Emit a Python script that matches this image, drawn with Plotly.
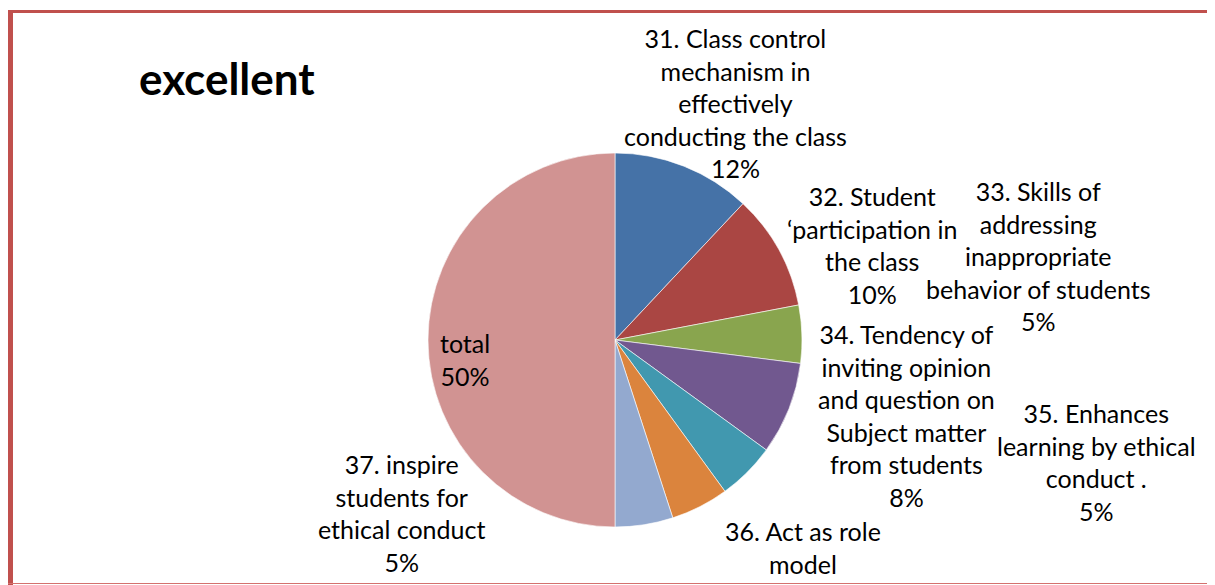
import plotly.graph_objects as go

# the page body has an 8px margin, so the figure is drawn 8px in from the corner
OFF = 8
W, H = 1215 - OFF, 585 - OFF

# chart data
categories = [
    "31. Class control\nmechanism in\neffectively\nconducting the class",
    "32. Student\n\u2018participation in\nthe class",
    "33. Skills of\naddressing\ninappropriate\nbehavior of students",
    "34. Tendency of\ninviting opinion\nand question on\nSubject matter\nfrom students",
    "35. Enhances\nlearning by ethical\nconduct .",
    "36. Act as role\nmodel",
    "37. inspire\nstudents for\nethical conduct",
    "total",
]
values = [12, 10, 5, 8, 5, 5, 5, 50]
colors = ["#4572A7", "#AA4643", "#89A54E", "#71588F",
          "#4198AF", "#DB843D", "#93A9CF", "#D19392"]

# label centre positions in window pixels (x, y middle of text block)
label_pos = [(735, 103), (872, 245), (1038, 256), (906, 415),
             (1096, 462), (803, 547), (401, 513), (465, 359)]
# the percentage of label 36 falls below the chart edge in the original
show_pct = [True, True, True, True, True, False, True, True]


def px_x(x):
    return (x - OFF) / W


def px_y(y):
    return 1 - (y - OFF) / H


total = sum(values)

fig = go.Figure()
fig.add_trace(go.Pie(
    labels=categories,
    values=values,
    sort=False,
    direction="clockwise",
    rotation=0,
    textinfo="none",
    hoverinfo="label+percent",
    marker=dict(colors=colors, line=dict(color="#FFFFFF", width=0.6)),
    domain=dict(x=[px_x(615 - 187), px_x(615 + 187)],
                y=[px_y(340 + 187), px_y(340 - 187)]),
    showlegend=False,
))

for name, val, (lx, ly), sp in zip(categories, values, label_pos, show_pct):
    text = name.replace("\n", "<br>")
    if sp:
        text += f"<br>{round(100 * val / total)}%"
    fig.add_annotation(
        x=px_x(lx), y=px_y(ly), xref="paper", yref="paper",
        text=text, showarrow=False, align="center",
        xanchor="center", yanchor="middle",
        font=dict(family="Lato", size=25, color="#000000"))

fig.add_annotation(
    x=px_x(137), y=px_y(78), xref="paper", yref="paper",
    text="<b>excellent</b>", showarrow=False,
    xanchor="left", yanchor="middle",
    font=dict(family="Lato", size=44, color="#000000"))

# red frame around the chart area
fig.add_shape(type="rect", xref="paper", yref="paper",
              x0=px_x(8), x1=px_x(13), y0=0, y1=px_y(10),
              fillcolor="#C0504D", line=dict(width=0))
fig.add_shape(type="rect", xref="paper", yref="paper",
              x0=px_x(8), x1=1.0, y0=px_y(13), y1=px_y(10),
              fillcolor="#C0504D", line=dict(width=0))
fig.add_shape(type="line", xref="paper", yref="paper",
              x0=px_x(8), x1=1.0, y0=px_y(583.5), y1=px_y(583.5),
              line=dict(color="#D4716E", width=1))

fig.update_layout(
    width=W, height=H,
    margin=dict(l=0, r=0, t=0, b=0),
    paper_bgcolor="#FFFFFF",
    plot_bgcolor="#FFFFFF",
)

fig.write_html("out.html")
